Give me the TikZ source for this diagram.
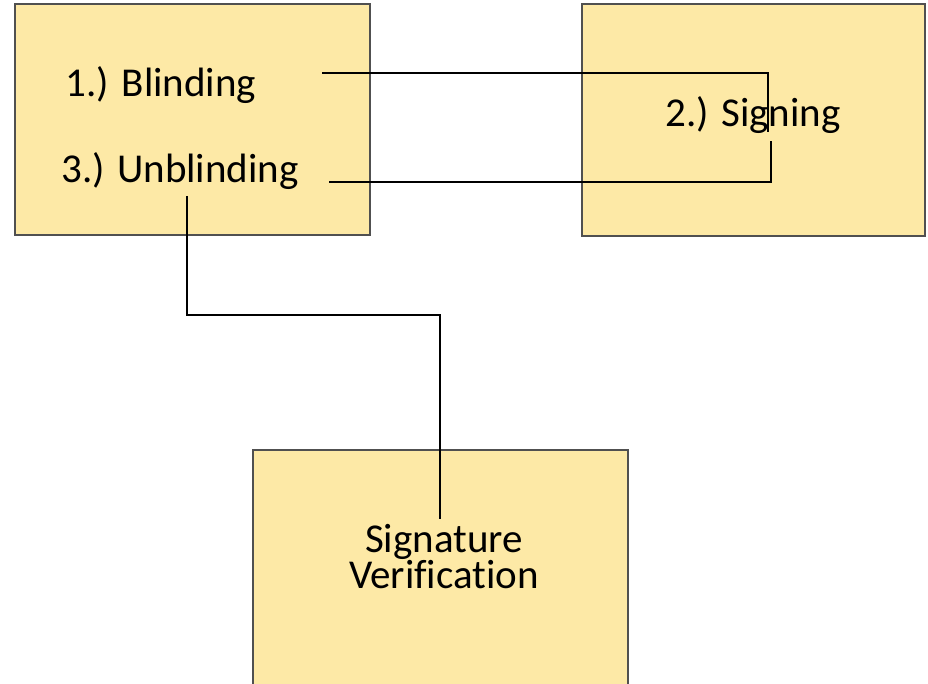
\documentclass[tikz,border=0pt]{standalone}
\usepackage{fontspec}
\setmainfont[Ligatures=NoCommon]{Carlito}
\definecolor{boxfill}{RGB}{253,233,166}
\definecolor{boxline}{RGB}{80,80,80}
\begin{document}
\begin{tikzpicture}[x=1pt,y=-1pt,
  stage/.style={draw=boxline,line width=1.2pt,fill=boxfill},
  label/.style={inner sep=0pt,anchor=base,font=\fontsize{41}{36}\selectfont},
  wire/.style={draw=black,line width=2.4pt}]
\useasboundingbox (0,0) rectangle (928,684);
% stage boxes
\path[stage] (15,4) rectangle (370,235);
\path[stage] (582,4) rectangle (925,236);
\path[stage] (253,450) rectangle (628,700);
% labels
\node[label] (blind) at (161,97) {1.) Blinding};
\node[label] (unblind) at (180,183) {3.) Unblinding};
\node[label] (sign) at (753,127) {2.) Signing};
\node[label,align=center] (verify) at (444,588) {Signature\\Verification};
% connector end points
\coordinate (a0) at (322,73);
\coordinate (a1) at (768,132);
\coordinate (b0) at (329,182);
\coordinate (b1) at (771,141);
\coordinate (c0) at (187,196);
\coordinate (c1) at (440,519);
% connectors
\draw[wire] (a0) -| (a1);
\draw[wire] (b0) -| (b1);
\draw[wire] (c0) |- (314,315) -| (c1);
\end{tikzpicture}
\end{document}
